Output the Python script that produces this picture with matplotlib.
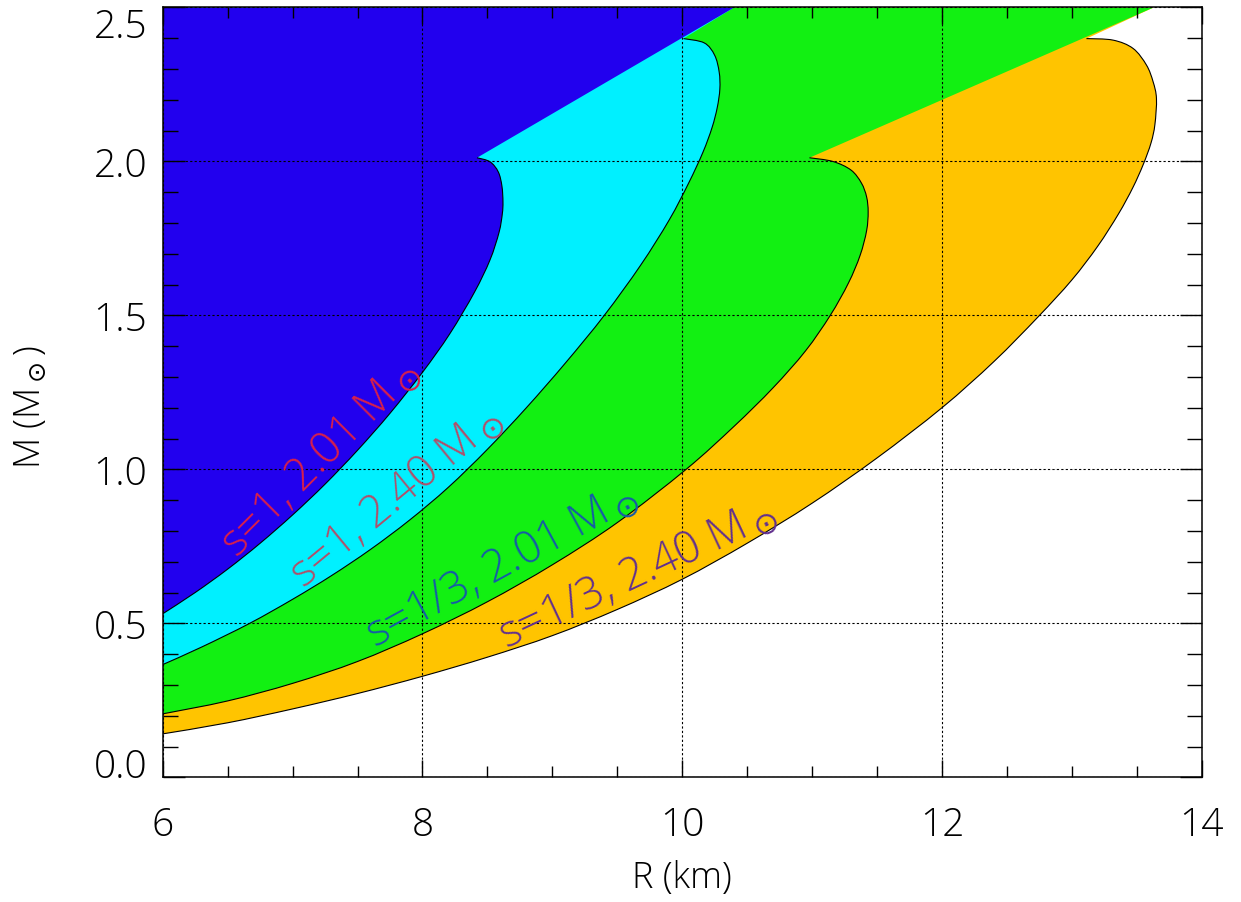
import matplotlib
matplotlib.use("Agg")
import matplotlib.pyplot as plt
from matplotlib.path import Path
from matplotlib.patches import PathPatch
from matplotlib.ticker import MultipleLocator, FormatStrFormatter

# ---------------- data ----------------
# boundary curves (R in km, M in solar masses), from the left edge up to the maximum-mass point
r_s1_201 = [6.00, 6.25, 6.50, 6.75, 7.00, 7.25, 7.50, 7.75, 8.00, 8.21, 8.40, 8.52, 8.59, 8.615, 8.62, 8.612, 8.584, 8.52, 8.42]
m_s1_201 = [0.531, 0.600, 0.676, 0.760, 0.852, 0.952, 1.062, 1.182, 1.315, 1.440, 1.575, 1.680, 1.770, 1.830, 1.869, 1.920, 1.966, 1.999, 2.012]

r_s1_240 = [6.00, 6.30, 6.67, 7.00, 7.30, 7.60, 7.90, 8.20, 8.50, 8.80, 9.10, 9.40, 9.68, 9.90, 10.05, 10.16, 10.23,
            10.27, 10.29, 10.285, 10.25, 10.17, 10.01]
m_s1_240 = [0.366, 0.423, 0.500, 0.578, 0.655, 0.740, 0.835, 0.942, 1.065, 1.200, 1.345, 1.500, 1.663, 1.810, 1.930, 2.030, 2.110,
            2.175, 2.235, 2.290, 2.345, 2.385, 2.399]

r_s13_201 = [6.00, 6.50, 7.00, 7.50, 8.00, 8.50, 9.00, 9.50, 10.03, 10.40, 10.70, 10.95, 11.14, 11.28, 11.37, 11.42,
             11.432, 11.42, 11.38, 11.30, 11.16, 10.98]
m_s13_201 = [0.206, 0.248, 0.305, 0.376, 0.466, 0.570, 0.690, 0.827, 1.000, 1.140, 1.265, 1.385, 1.500, 1.605, 1.695, 1.775,
             1.836, 1.885, 1.930, 1.972, 2.000, 2.012]

r_s13_240 = [6.00, 6.50, 7.00, 7.50, 8.00, 8.50, 9.00, 9.50, 10.00, 10.50, 11.00, 11.50, 12.00, 12.40, 12.74, 13.00,
             13.20, 13.36, 13.47, 13.55, 13.61, 13.64, 13.652, 13.626, 13.575, 13.472, 13.318, 13.113]
m_s13_240 = [0.141, 0.177, 0.222, 0.272, 0.328, 0.390, 0.460, 0.545, 0.643, 0.760, 0.890, 1.037, 1.200, 1.350, 1.495, 1.615,
             1.725, 1.830, 1.915, 1.990, 2.060, 2.120, 2.204, 2.259, 2.313, 2.367, 2.394, 2.399]

# where the constant-compactness lines through the maximum-mass points reach the top of the plot
r_top_s1 = 10.40
r_top_s13 = 13.63

labels = ["s=1, 2.01 M$_\\odot$", "s=1, 2.40 M$_\\odot$",
          "s=1/3, 2.01 M$_\\odot$", "s=1/3, 2.40 M$_\\odot$"]
label_r = [7.22, 7.80, 8.61, 9.655]
label_m = [1.040, 0.912, 0.690, 0.660]
label_rot = [45, 39.5, 28.5, 25.0]
label_col = ["#d8204a", "#b0506a", "#165aa8", "#62308e"]

x_ticks = [6, 8, 10, 12, 14]
y_ticks = [0.0, 0.5, 1.0, 1.5, 2.0, 2.5]

fill_colors = ["#2200ee", "#00f0ff", "#12f012", "#ffc400"]


# ---------------- helpers ----------------
def smooth_path_parts(xs, ys):
    """Vertices/codes of a smooth (Catmull-Rom as cubic Bezier) curve through the points."""
    pts = list(zip(xs, ys))
    n = len(pts)
    verts = [pts[0]]
    codes = [Path.MOVETO]
    for i in range(n - 1):
        p0 = pts[i - 1] if i > 0 else pts[i]
        p1 = pts[i]
        p2 = pts[i + 1]
        p3 = pts[i + 2] if i + 2 < n else pts[i + 1]
        c1 = (p1[0] + (p2[0] - p0[0]) / 6.0, p1[1] + (p2[1] - p0[1]) / 6.0)
        c2 = (p2[0] - (p3[0] - p1[0]) / 6.0, p2[1] - (p3[1] - p1[1]) / 6.0)
        verts += [c1, c2, p2]
        codes += [Path.CURVE4] * 3
    return verts, codes


# ---------------- figure ----------------
FONT = ["Open Sans", "DejaVu Sans"]
plt.rcParams["font.family"] = FONT
plt.rcParams["mathtext.fontset"] = "dejavusans"

fig = plt.figure(figsize=(12.41, 9.03), dpi=100)
ax = fig.add_axes([0.1311, 0.1381, 0.8372, 0.8525])

xmin, xmax = x_ticks[0], x_ticks[-1]
ymin, ymax = y_ticks[0], y_ticks[-1]

curves = [(r_s1_201, m_s1_201, r_top_s1), (r_s1_240, m_s1_240, r_top_s1),
          (r_s13_201, m_s13_201, r_top_s13), (r_s13_240, m_s13_240, r_top_s13)]

# draw the outermost region first, then the inner ones on top
for (rr, mm, rtop), col in reversed(list(zip(curves, fill_colors))):
    v, c = smooth_path_parts(rr, mm)
    verts = [(xmin - 1, mm[0])] + v + [(rtop, ymax), (xmin - 1, ymax), (xmin - 1, mm[0])]
    codes = [Path.MOVETO, Path.LINETO] + c[1:] + [Path.LINETO, Path.LINETO, Path.CLOSEPOLY]
    ax.add_patch(PathPatch(Path(verts, codes), facecolor=col, edgecolor="none", lw=0, zorder=1))

for rr, mm, _ in curves:
    v, c = smooth_path_parts(rr, mm)
    ax.add_patch(PathPatch(Path(v, c), facecolor="none", edgecolor="black", lw=0.8, zorder=3))

for txt, x, y, rot, col in zip(labels, label_r, label_m, label_rot, label_col):
    ax.text(x, y, txt, rotation=rot, color=col, fontsize=32, fontweight="light",
            ha="center", va="center", rotation_mode="anchor", zorder=5)

ax.set_xlim(xmin, xmax)
ax.set_ylim(ymin, ymax)
ax.set_xticks(x_ticks)
ax.set_yticks(y_ticks)
ax.xaxis.set_minor_locator(MultipleLocator(0.5))
ax.yaxis.set_minor_locator(MultipleLocator(0.1))
ax.yaxis.set_major_formatter(FormatStrFormatter("%.1f"))

ax.grid(True, which="major", color="black", linestyle=(0, (2, 2)), linewidth=0.8, zorder=2)
ax.set_axisbelow(False)

ax.tick_params(which="both", direction="in", top=True, right=True, width=1.0, colors="black")
ax.xaxis.set_tick_params(which="major", length=12, pad=20, labelsize=28)
ax.xaxis.set_tick_params(which="minor", length=7.7)
ax.yaxis.set_tick_params(which="major", length=16, pad=11, labelsize=28)
ax.yaxis.set_tick_params(which="minor", length=10.8)

for tk in ax.xaxis.get_major_ticks() + ax.yaxis.get_major_ticks():
    tk.label1.set_fontweight("light")
yt = ax.yaxis.get_major_ticks()
yt[0].label1.set_verticalalignment("baseline")
yt[-1].label1.set_verticalalignment("top")

for s in ax.spines.values():
    s.set_linewidth(1.1)
    s.set_zorder(6)

ax.set_xlabel("R (km)", fontsize=26, fontweight="light", va="baseline")
ax.xaxis.set_label_coords(0.5, -0.1424)
ax.set_ylabel("M (M$_\\odot$)", fontsize=26, fontweight="light", va="center")
ax.yaxis.set_label_coords(-0.1277, 0.482)

fig.savefig("out.png", dpi=100)
